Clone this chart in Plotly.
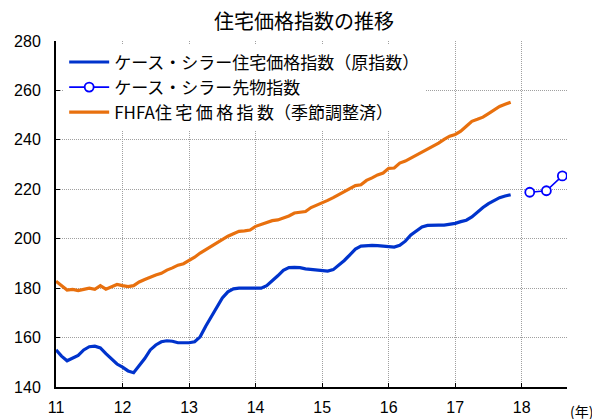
import plotly.graph_objects as go

# ---- data ----
start_year = 11  # x axis in 2-digit years, monthly data from Jan 2011

cs_index = [  # Case-Shiller (NSA), Jan 2011 - Nov 2017
    155.0, 152.5, 150.6, 151.8, 152.8, 155.0, 156.3, 156.5, 155.8, 153.5, 151.2, 149.3,
    148.0, 146.5, 145.8, 148.5, 151.5, 155.0, 157.0, 158.3, 158.7, 158.5, 157.9, 157.9,
    157.9, 158.3, 160.3, 164.6, 168.5, 172.7, 176.0, 178.5, 179.7, 180.0, 180.0, 180.0,
    180.0, 180.0, 181.0, 182.8, 185.0, 187.2, 188.3, 188.4, 188.3, 187.8, 187.5, 187.3,
    187.2, 186.9, 187.5, 189.2, 191.2, 193.5, 195.8, 197.0, 197.3, 197.3, 197.2, 197.0,
    196.5, 196.6, 197.3, 199.0, 201.5, 203.3, 204.8, 205.4, 205.6, 205.5, 205.5, 205.7,
    206.2, 206.9, 207.5, 208.8, 210.8, 212.6, 214.2, 215.5, 216.6, 217.3, 217.8,
]

fhfa_index = [  # FHFA (SA), Jan 2011 - Nov 2017
    182.8, 180.8, 179.2, 179.5, 179.0, 179.5, 180.0, 179.5, 181.0, 179.6, 180.7, 181.5,
    181.0, 180.6, 181.0, 182.5, 183.5, 184.5, 185.3, 186.0, 187.3, 188.2, 189.3, 189.9,
    191.2, 192.5, 194.2, 195.6, 196.8, 198.3, 199.9, 201.0, 202.0, 203.0, 203.2, 203.5,
    205.0, 205.8, 206.7, 207.3, 207.6, 208.3, 209.2, 210.4, 210.7, 211.0, 212.6, 213.5,
    214.3, 215.5, 216.6, 217.8, 218.8, 220.2, 221.5, 221.8, 223.6, 224.6, 225.8, 226.6,
    228.5, 228.6, 230.6, 231.4, 232.6, 234.0, 235.3, 236.5, 237.6, 238.7, 240.2, 241.5,
    242.2, 243.5, 245.5, 247.5, 248.3, 249.2, 250.6, 252.2, 253.5, 254.4, 255.2,
]

futures_x = [18.12, 18.37, 18.61]
futures_index = [218.8, 219.4, 225.4]

x_ticks = [11, 12, 13, 14, 15, 16, 17, 18]
x_tick_labels = ["11", "12", "13", "14", "15", "16", "17", "18"]
y_ticks = [140, 160, 180, 200, 220, 240, 260, 280]

names = [
    "ケース・シラー住宅価格指数（原指数）",
    "ケース・シラー先物指数",
    "FHFA住\u2009宅\u2009価\u2009格\u2009指\u2009数（季節調整済）",
]
title_text = "住宅価格指数の推移"
x_unit = "(年)"

months_x = [start_year + i / 12 for i in range(len(cs_index))]

JP = "'Noto Sans CJK JP', sans-serif"
NUM = "'Liberation Sans', Arial, sans-serif"
GRID = "#A0A0A0"

fig = go.Figure()
fig.add_trace(go.Scatter(
    x=months_x, y=cs_index, mode="lines", name=names[0], legendgroup="a",
    line=dict(color="#0033CC", width=3.2),
))
fig.add_trace(go.Scatter(
    x=futures_x, y=futures_index, mode="lines+markers", name=names[1], legendgroup="b",
    line=dict(color="#0000FF", width=1.6),
    marker=dict(symbol="circle", size=9, color="white", line=dict(color="#0000FF", width=1.8)),
))
fig.add_trace(go.Scatter(
    x=months_x, y=fhfa_index, mode="lines", name=names[2], legendgroup="c",
    line=dict(color="#E8700E", width=3.2),
))

# the page body keeps an 8px default margin, so the figure is sized to fit within it
fig.update_layout(
    width=592, height=411,
    margin=dict(l=48, r=33, t=33, b=32),
    paper_bgcolor="white", plot_bgcolor="white",
    font=dict(family=NUM, size=16, color="black"),
    title=dict(text=title_text, x=0.5, xanchor="center", y=0.966, yanchor="middle",
               yref="container", font=dict(size=20, family=JP, color="black")),
    showlegend=True,
    legend=dict(
        x=0.016, y=0.99, xanchor="left", yanchor="top",
        bgcolor="white", borderwidth=0,
        font=dict(size=17, family=JP),
        traceorder="grouped", tracegroupgap=0,
        itemwidth=40,
    ),
    xaxis=dict(
        range=[11, 18.68], tickmode="array", tickvals=x_ticks, ticktext=x_tick_labels,
        showgrid=True, gridcolor=GRID, griddash="1px,1px", gridwidth=1,
        showline=True, linecolor="black", linewidth=2,
        ticks="inside", ticklen=4, tickcolor="black", tickwidth=1,
        tickfont=dict(size=16, family=NUM), zeroline=False, automargin=False,
        ticklabelstandoff=5,
    ),
    yaxis=dict(
        range=[140, 280], tickmode="array", tickvals=y_ticks,
        showgrid=True, gridcolor=GRID, griddash="1px,1px", gridwidth=1,
        showline=True, linecolor="black", linewidth=2,
        ticks="inside", ticklen=4, tickcolor="black", tickwidth=1,
        tickfont=dict(size=16, family=NUM), zeroline=False, automargin=False,
        ticklabelstandoff=10,
    ),
    annotations=[dict(
        text=x_unit, xref="paper", yref="paper", x=1.0, y=0, xanchor="left", yanchor="top",
        xshift=1, yshift=-12, showarrow=False, font=dict(size=14, family=JP),
    )],
)

fig.write_html("out.html")
